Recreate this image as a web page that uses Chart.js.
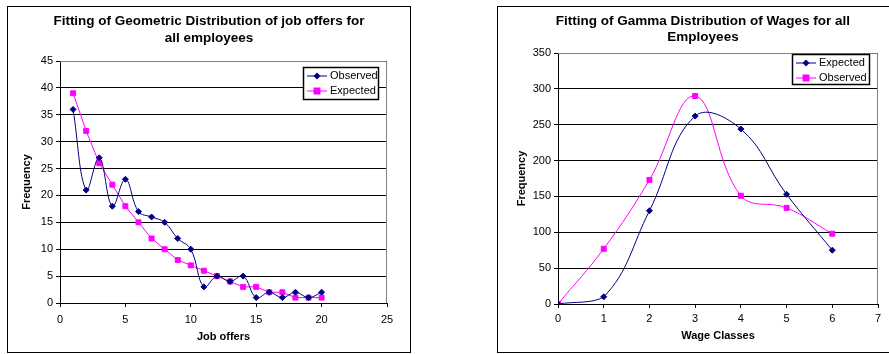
<!DOCTYPE html>
<html>
<head>
<meta charset="utf-8">
<script src="https://cdn.jsdelivr.net/npm/chart.js@4.4.0/dist/chart.umd.min.js"></script>
<style>
  body { margin:0; background:#fff; width:889px; height:354px; overflow:hidden; position:relative; font-family:"Liberation Sans", Arial, sans-serif; }
  .box { position:absolute; border:1px solid #000; background:#fff; }
  .box canvas { position:absolute; left:0; top:0; }
</style>
</head>
<body>
<div class="box" id="boxL" style="left:7px; top:6px; width:402px; height:345px;"><canvas id="chartL" width="402" height="345"></canvas></div>
<div class="box" id="boxR" style="left:497px; top:6px; width:392px; height:345px; border-right:none;"><canvas id="chartR" width="392" height="345"></canvas></div>
<script>
// Geometric distribution of job offers
const jobOffers = [1,2,3,4,5,6,7,8,9,10,11,12,13,14,15,16,17,18,19,20];
const jobObserved = [36,21,27,18,23,17,16,15,12,10,3,5,4,5,1,2,1,2,1,2];
const jobExpected = [39,32,26,22,18,15,12,10,8,7,6,5,4,3,3,2,2,1,1,1];

// Gamma distribution of wages
const wageClasses = [0,1,2,3,4,5,6];
const wageExpected = [0,10,130,262,244,153,75];
const wageObserved = [0,77,173,290,151,134,98];

const NAVY = '#000080', MAGENTA = '#FF00FF';
const FONT = '"Liberation Sans", Arial, sans-serif';

function pts(xs, ys){ return xs.map((x,i)=>({x:x, y:ys[i]})); }

// title, plot border and legend box
const frameAndLegend = {
    id:'frameAndLegend',
    beforeDatasetsDraw(chart){
        const a = chart.chartArea, c = chart.ctx;
        c.save();
        c.strokeStyle = '#808080'; c.lineWidth = 1;
        c.beginPath();
        c.moveTo(a.left, a.top+0.5); c.lineTo(a.right-0.5, a.top+0.5); c.lineTo(a.right-0.5, a.bottom);
        c.stroke();
        c.restore();
    },
    afterDraw(chart, args, opts){
        const c = chart.ctx, a = chart.chartArea;
        c.save();
        // title
        c.fillStyle = '#000';
        c.font = 'bold 13.5px ' + FONT;
        c.textAlign = 'center'; c.textBaseline = 'middle';
        opts.title.forEach((t, i)=> c.fillText(t, opts.titleX, opts.titleY + i*opts.titleStep));
        c.textAlign = 'left';
        // legend
        const w = opts.width, h = opts.height;
        const x = a.right - opts.right - w, y = a.top + opts.top;
        c.fillStyle = '#fff';
        c.fillRect(x, y, w, h);
        c.strokeStyle = '#000'; c.lineWidth = 1.5;
        c.strokeRect(x+0.5, y+0.5, w, h);
        c.font = '11px ' + FONT;
        chart.data.datasets.forEach((ds, i)=>{
            const ly = y + 9 + i*15;
            c.strokeStyle = ds.borderColor; c.lineWidth = 1;
            c.beginPath(); c.moveTo(x+4, ly); c.lineTo(x+24, ly); c.stroke();
            c.fillStyle = ds.borderColor;
            if (ds.pointStyle === 'rect') {
                c.fillRect(x+14-3.5, ly-3.5, 7, 7);
            } else {
                c.beginPath(); c.moveTo(x+14, ly-3.5); c.lineTo(x+17.5, ly); c.lineTo(x+14, ly+3.5); c.lineTo(x+10.5, ly); c.closePath(); c.fill();
            }
            c.fillStyle = '#000';
            c.fillText(ds.label, x+27, ly);
        });
        c.restore();
    }
};

function makeChart(id, cfg){
    return new Chart(document.getElementById(id), {
        type:'line',
        data:{ datasets: cfg.datasets },
        plugins:[frameAndLegend],
        options:{
            responsive:false, animation:false,
            layout:{ padding:{ left:cfg.padLeft, right:cfg.padRight, top:cfg.padTop, bottom:0 } },
            plugins:{
                legend:{ display:false },
                tooltip:{ enabled:false },
                title:{ display:false },
                frameAndLegend: cfg.legend
            },
            scales:{
                x:{
                    type:'linear', min:cfg.xMin, max:cfg.xMax,
                    ticks:{ stepSize:cfg.xStep, color:'#000', font:{ family:FONT, size:11 }, padding:cfg.xTickPad },
                    grid:{ drawOnChartArea:false, drawTicks:true, tickLength:4, color:'#000' },
                    border:{ color:'#000', width:1 },
                    title:{ display:true, text:cfg.xTitle, color:'#000', font:{ family:FONT, size:11, weight:'bold' }, padding:{ top:4, bottom:cfg.xTitleBottom } },
                    afterFit(s){ s.height = cfg.xHeight; }
                },
                y:{
                    min:0, max:cfg.yMax,
                    ticks:{ stepSize:cfg.yStep, color:'#000', font:{ family:FONT, size:11 }, padding:3 },
                    grid:{ color:'#000', lineWidth:1, drawTicks:true, tickLength:4 },
                    border:{ color:'#000', width:1 },
                    title:{ display:true, text:'Frequency', color:'#000', font:{ family:FONT, size:11, weight:'bold' }, padding:{ bottom:4 } },
                    afterFit(s){ s.width = cfg.yWidth; }
                }
            }
        }
    });
}

makeChart('chartL', {
    padLeft:8, padRight:23, padTop:54, xMin:0, xMax:25, xStep:5, yMax:45, yStep:5,
    xTitle:'Job offers', xHeight:49, yWidth:44, xTickPad:6, xTitleBottom:8,
    legend:{ width:75, height:32, right:9, top:6,
             title:['Fitting of Geometric Distribution of job offers for','all employees'],
             titleX:201, titleY:14, titleStep:17 },
    datasets:[
        { label:'Observed', data:pts(jobOffers, jobObserved), borderColor:NAVY, backgroundColor:NAVY,
          borderWidth:1, pointStyle:'rectRot', pointRadius:3, tension:0.4 },
        { label:'Expected', data:pts(jobOffers, jobExpected), borderColor:MAGENTA, backgroundColor:MAGENTA,
          borderWidth:1, pointStyle:'rect', pointRadius:3.5, tension:0 }
    ]
});

makeChart('chartR', {
    padLeft:13, padRight:12, padTop:46, xMin:0, xMax:7, xStep:1, yMax:350, yStep:50,
    xTitle:'Wage Classes', xHeight:48, yWidth:47, xTickPad:4, xTitleBottom:9,
    legend:{ width:77, height:30, right:9, top:1,
             title:['Fitting of Gamma Distribution of Wages for all','Employees'],
             titleX:205, titleY:14, titleStep:16 },
    datasets:[
        { label:'Expected', data:pts(wageClasses, wageExpected), borderColor:NAVY, backgroundColor:NAVY,
          borderWidth:1, pointStyle:'rectRot', pointRadius:3, tension:0.4 },
        { label:'Observed', data:pts(wageClasses, wageObserved), borderColor:MAGENTA, backgroundColor:MAGENTA,
          borderWidth:1, pointStyle:'rect', pointRadius:3.5, tension:0.4 }
    ]
});
</script>
</body>
</html>
